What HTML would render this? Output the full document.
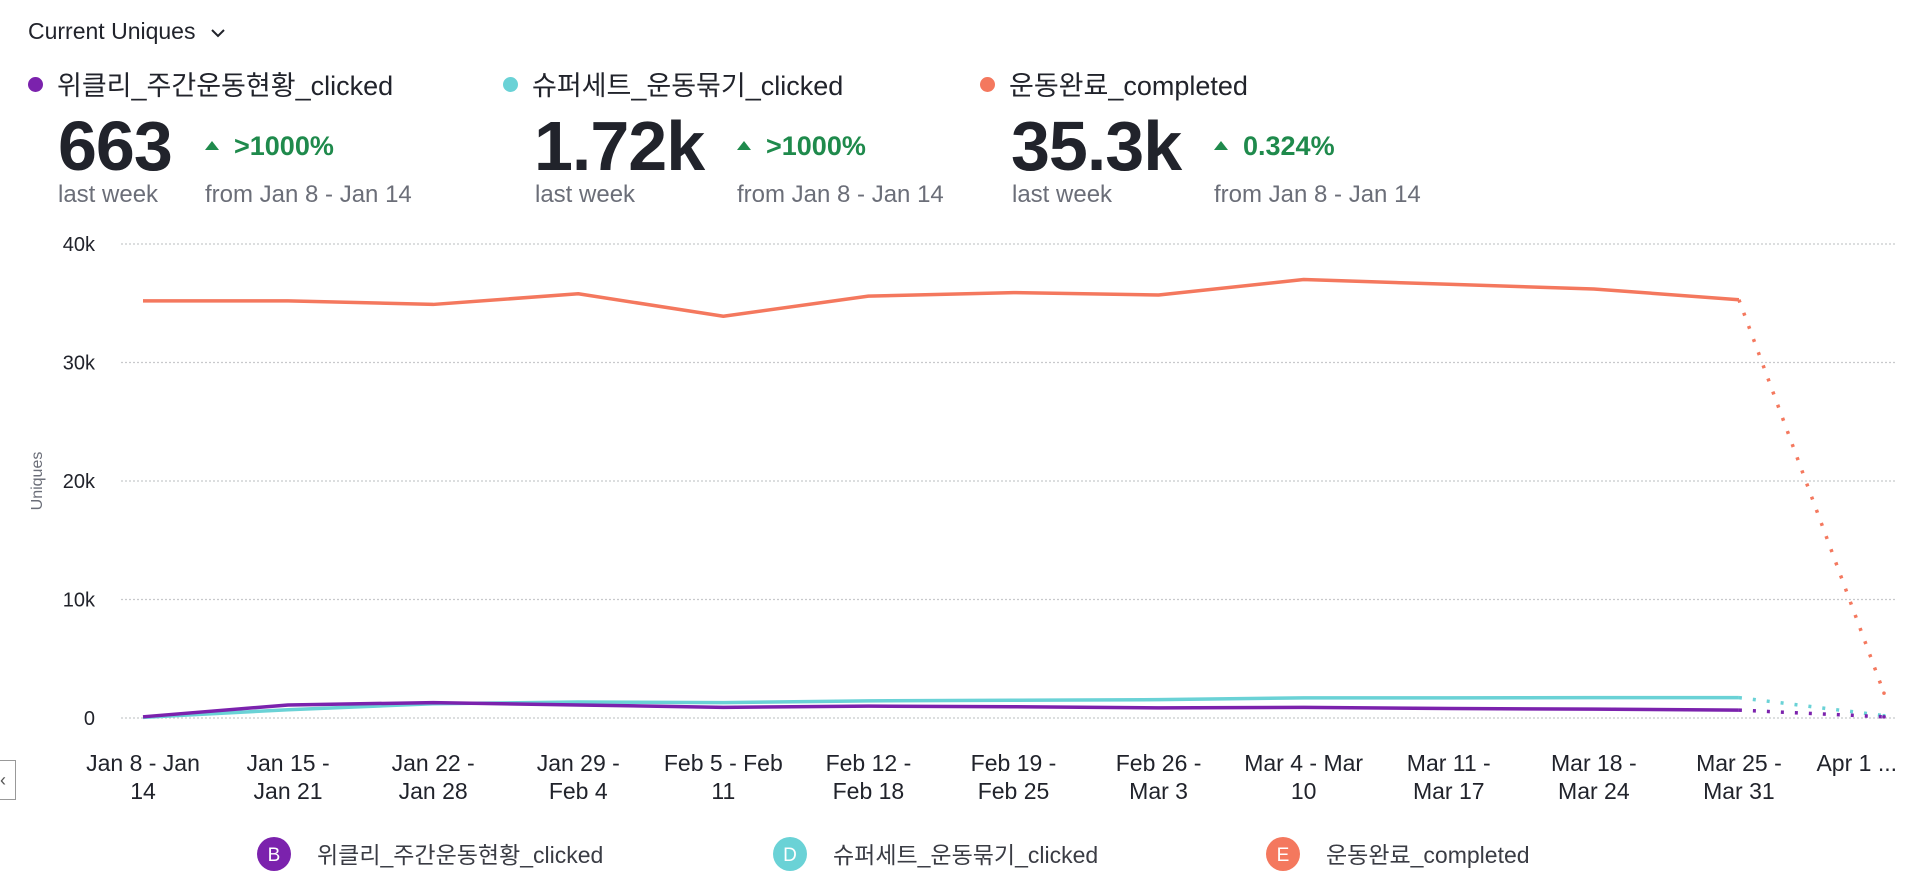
<!DOCTYPE html>
<html><head><meta charset="utf-8">
<style>
body{margin:0;width:1932px;height:880px;background:#fff;font-family:"Liberation Sans","Noto Sans CJK KR",sans-serif;color:#21232b;overflow:hidden;position:relative}
.abs{position:absolute;white-space:nowrap}
.title{left:28px;top:18px;font-size:23px}
.leg{font-size:27px;top:64px}
.dot{position:absolute;width:15px;height:15px;border-radius:50%;top:77px}
.big{font-size:70px;font-weight:bold;top:106px;letter-spacing:-1px}
.sub{font-size:24px;color:#6b6e78;top:181px}
.chg{font-size:27px;font-weight:bold;color:#1f8a4c;top:131px}
.tri{display:inline-block;width:0;height:0;border-left:7px solid transparent;border-right:7px solid transparent;border-bottom:9px solid #1f8a4c;margin-right:15px;vertical-align:5px}
</style></head><body>
<div class="abs title">Current Uniques <svg width="16" height="12" style="margin-left:8px"><path d="M2 3 L8 9 L14 3" stroke="#21232b" stroke-width="2" fill="none"/></svg></div>

<div class="dot" style="left:28px;background:#7b22ad"></div>
<div class="abs leg" style="left:57px">위클리_주간운동현황_clicked</div>
<div class="abs big" style="left:58px">663</div>
<div class="abs sub" style="left:58px">last week</div>
<div class="abs chg" style="left:205px"><span class="tri"></span>&gt;1000%</div>
<div class="abs sub" style="left:205px">from Jan 8 - Jan 14</div>

<div class="dot" style="left:503px;background:#6ad2d6"></div>
<div class="abs leg" style="left:532px">슈퍼세트_운동묶기_clicked</div>
<div class="abs big" style="left:534px">1.72k</div>
<div class="abs sub" style="left:535px">last week</div>
<div class="abs chg" style="left:737px"><span class="tri"></span>&gt;1000%</div>
<div class="abs sub" style="left:737px">from Jan 8 - Jan 14</div>

<div class="dot" style="left:980px;background:#f4785e"></div>
<div class="abs leg" style="left:1009px">운동완료_completed</div>
<div class="abs big" style="left:1011px">35.3k</div>
<div class="abs sub" style="left:1012px">last week</div>
<div class="abs chg" style="left:1214px"><span class="tri"></span>0.324%</div>
<div class="abs sub" style="left:1214px">from Jan 8 - Jan 14</div>

<div class="abs" style="left:0;top:760px;width:16px;height:40px;border:1px solid #999;border-left:none;box-sizing:border-box;font-size:18px;color:#555;line-height:38px">‹</div>

<svg id="chart" class="abs" style="left:0;top:0" width="1932" height="880"></svg>

<script>
const categories=["Jan 8 - Jan|14","Jan 15 -|Jan 21","Jan 22 -|Jan 28","Jan 29 -|Feb 4","Feb 5 - Feb|11","Feb 12 -|Feb 18","Feb 19 -|Feb 25","Feb 26 -|Mar 3","Mar 4 - Mar|10","Mar 11 -|Mar 17","Mar 18 -|Mar 24","Mar 25 -|Mar 31","Apr 1 ..."];
const weeklyClicked=[100,1100,1300,1100,900,1000,950,850,900,800,750,663,100];
const supersetClicked=[50,700,1200,1350,1300,1450,1500,1550,1700,1700,1720,1720,200];
const workoutCompleted=[35200,35200,34900,35800,33900,35600,35900,35700,37000,36600,36200,35300,2100];
const yTicks=[0,10000,20000,30000,40000];
const yTickLabels=["0","10k","20k","30k","40k"];
const legendNames=["위클리_주간운동현황_clicked","슈퍼세트_운동묶기_clicked","운동완료_completed"];
const legendLetters=["B","D","E"];

const NS="http://www.w3.org/2000/svg";
const svg=document.getElementById('chart');
const X0=143,X1=1884,Y0=718,Y1=244,GL=121,GR=1897;
const xs=i=>X0+(X1-X0)*i/(categories.length-1);
const ys=v=>Y0-(Y0-Y1)*v/40000;
function mk(t,a){const e=document.createElementNS(NS,t);for(const k in a)e.setAttribute(k,a[k]);svg.appendChild(e);return e;}

yTicks.forEach((v,i)=>{
  const g=mk('line',{x1:GL,x2:GR,y1:ys(v),y2:ys(v),stroke:'#c8c9cc','stroke-width':1.2,'stroke-dasharray':'2 2'});
  
  
  const t=mk('text',{x:95,y:ys(v)+7,'text-anchor':'end','font-size':20,fill:'#21232b'});
  t.textContent=yTickLabels[i];
  
  
});
const yt=mk('text',{x:0,y:0,'text-anchor':'middle','font-size':16,fill:'#6b6e78',transform:'translate(42,481) rotate(-90)'});
yt.textContent='Uniques';



categories.forEach((c,i)=>{
  const last=i===categories.length-1;
  c.split('|').forEach((ln,j)=>{
    const t=mk('text',{x:last?GR:xs(i),y:771+j*28,'text-anchor':last?'end':'middle','font-size':23,fill:'#21232b'});
    t.textContent=ln;
    
    
  });
});

function series(data,color,name){
  const n=data.length;
  const solid=data.slice(0,n-1).map((v,i)=>xs(i)+','+ys(v)).join(' ');
  const p=mk('polyline',{points:solid,fill:'none',stroke:color,'stroke-width':3.5,'stroke-linejoin':'round'});
  
  
  const d=mk('line',{x1:xs(n-2),y1:ys(data[n-2]),x2:xs(n-1),y2:ys(data[n-1]),stroke:color,'stroke-width':3.5,'stroke-dasharray':'3 11'});
  
  
  const e=mk('circle',{cx:xs(n-1),cy:ys(data[n-1]),r:1.8,fill:color});
  
  
}
series(workoutCompleted,'#f4785e','completed');
series(supersetClicked,'#6ad2d6','superset');
series(weeklyClicked,'#7b22ad','weekly');

const lcol=['#7b22ad','#6ad2d6','#f4785e'],lx=[274,790,1283];
legendNames.forEach((n,i)=>{
  const c=mk('circle',{cx:lx[i],cy:854,r:17,fill:lcol[i]});
  
  
  const l=mk('text',{x:lx[i],y:861,'text-anchor':'middle','font-size':19,fill:'#fff'});
  l.textContent=legendLetters[i];
  
  
  const t=mk('text',{x:lx[i]+43,y:863,'font-size':23,fill:'#3a3c44'});
  t.textContent=n;
  
  
});
</script>
</body></html>
